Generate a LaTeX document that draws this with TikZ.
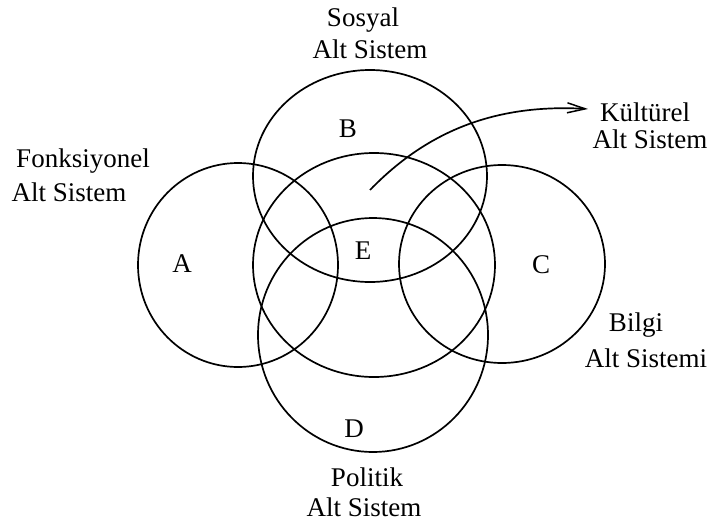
\documentclass[tikz,border=0pt]{standalone}
\usepackage{fontspec}
\setmainfont{Liberation Serif}
\usetikzlibrary{arrows.meta}
\begin{document}
\begin{tikzpicture}[x=1pt,y=-1pt,
  ring/.style={draw=black,line width=1.7pt},
  lbl/.style={inner sep=0pt,anchor=base,font=\fontsize{27}{27}\selectfont},
  link/.style={draw=black,line width=1.7pt,-{Straight Barb[length=18pt,width=10pt,line width=1.5pt]}}]
\useasboundingbox (0,0) rectangle (710,525);
\fill[white] (0,0) rectangle (710,525);
% circles
\draw[ring] (238,265) ellipse [x radius=100,y radius=102];
\draw[ring] (502,264) ellipse [x radius=103,y radius=99];
\draw[ring] (370,176) ellipse [x radius=117,y radius=106];
\draw[ring] (374,265) ellipse [x radius=121,y radius=112];
\draw[ring] (373,335) ellipse [x radius=115,y radius=117];
% region letters
\node[lbl] (la) at (182,272) {A};
\node[lbl] (lb) at (348,137) {B};
\node[lbl] (lc) at (541,273) {C};
\node[lbl] (ld) at (354,437) {D};
\node[lbl] (le) at (363,259) {E};
% captions
\node[lbl] (sos1) at (363,26) {Sosyal};
\node[lbl] (sos2) at (370,58) {Alt Sistem};
\node[lbl] (kul1) at (645,121) {Kültürel};
\node[lbl] (kul2) at (650,148) {Alt Sistem};
\node[lbl] (fon1) at (83,167) {Fonksiyonel};
\node[lbl] (fon2) at (69,201) {Alt Sistem};
\node[lbl] (bil1) at (636,331) {Bilgi};
\node[lbl] (bil2) at (646,367) {Alt Sistemi};
\node[lbl] (pol1) at (367,486) {Politik};
\node[lbl] (pol2) at (364,516) {Alt Sistem};
% arrow
\coordinate (kstart) at (370,190);
\coordinate (kend) at (588,109);
\draw[link] (kstart) .. controls (430,128) and (500,104) .. (kend);
\end{tikzpicture}
\end{document}
